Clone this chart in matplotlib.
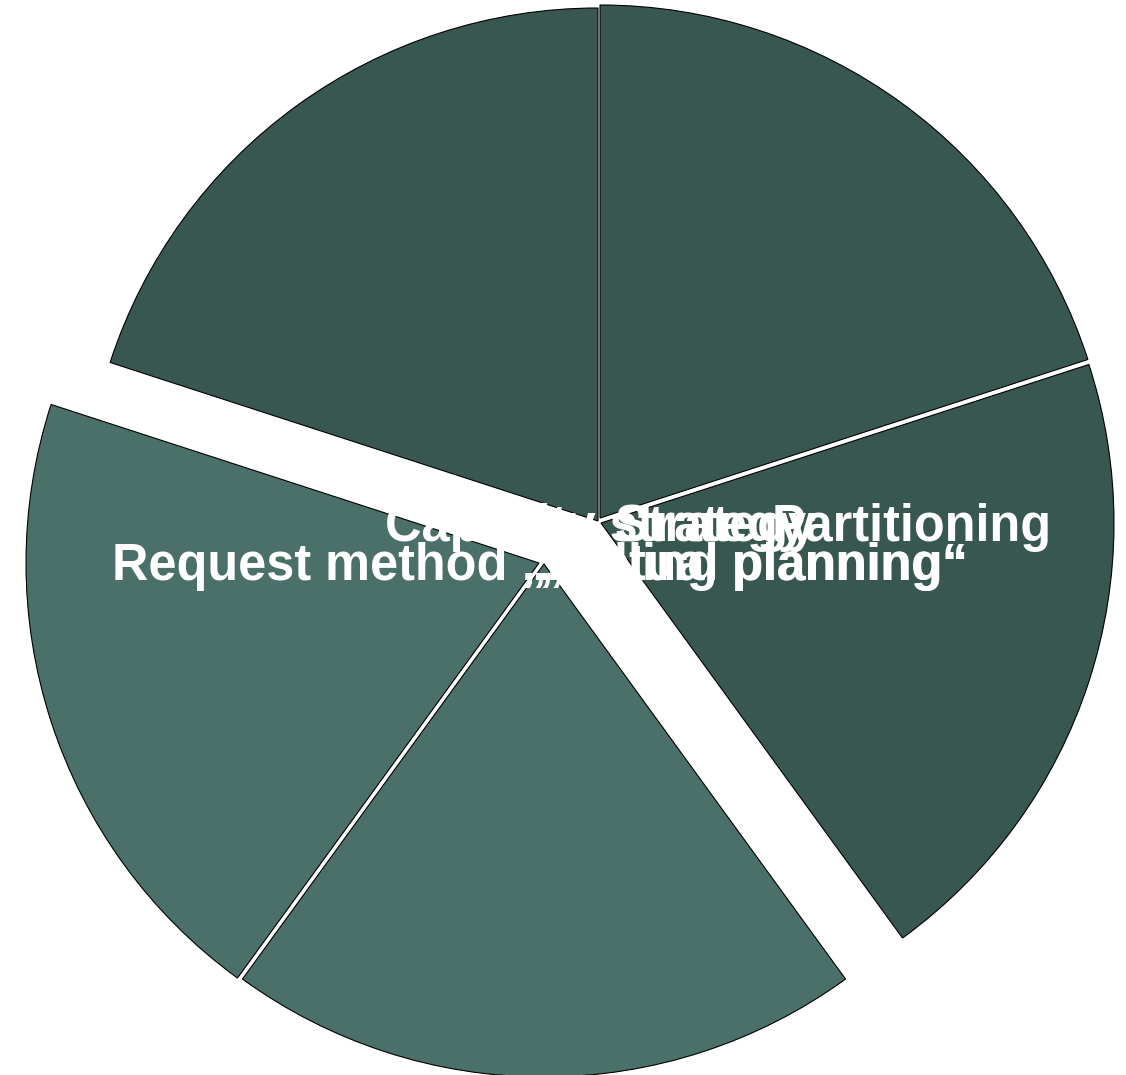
import matplotlib
matplotlib.use("Agg")
import matplotlib.pyplot as plt

# five equal pieces, clockwise from 12 o'clock
values = [1, 1, 1, 1, 1]
colors = ["#395751", "#395751", "#4a7069", "#4a7069", "#395751"]
# pull-out of each piece in pixels (dx right, dy down)
shifts = [(2, -3), (3, 2), (-54, 43), (-59, 42), (0, 0)]

# labels as they sit on the picture (they pile up in the middle)
line1_labels = ["Capacity strategy", "Strategy", "Partitioning"]
line1_x = [385, 614, 772]
line2_labels = ["Request method \u201eRolling planning\u201c", "\u201eActual planning\u201c"]
line2_x = [112, 539]

W, H = 1126, 1075
CX, CY, R = 598, 521, 513

fig = plt.figure(figsize=(W / 100, H / 100), dpi=100)
ax = fig.add_axes([0, 0, 1, 1])

wedges, _ = ax.pie(values, colors=colors, startangle=90, counterclock=False,
                   radius=R, center=(CX, H - CY),
                   wedgeprops=dict(edgecolor="black", linewidth=0.8))
for w, (dx, dy) in zip(wedges, shifts):
    w.set_center((CX + dx, H - CY - dy))

for txt, x in zip(line1_labels, line1_x):
    ax.text(x, H - 541, txt, color="white", fontsize=36.4, fontweight="bold",
            family="Liberation Sans", ha="left", va="baseline", zorder=5)
for txt, x in zip(line2_labels, line2_x):
    ax.text(x, H - 580, txt, color="white", fontsize=36.4, fontweight="bold",
            family="Liberation Sans", ha="left", va="baseline", zorder=5)

ax.set_xlim(0, W)
ax.set_ylim(0, H)
ax.set_aspect("equal")
ax.axis("off")
fig.savefig("out.png", dpi=100, facecolor="white")
